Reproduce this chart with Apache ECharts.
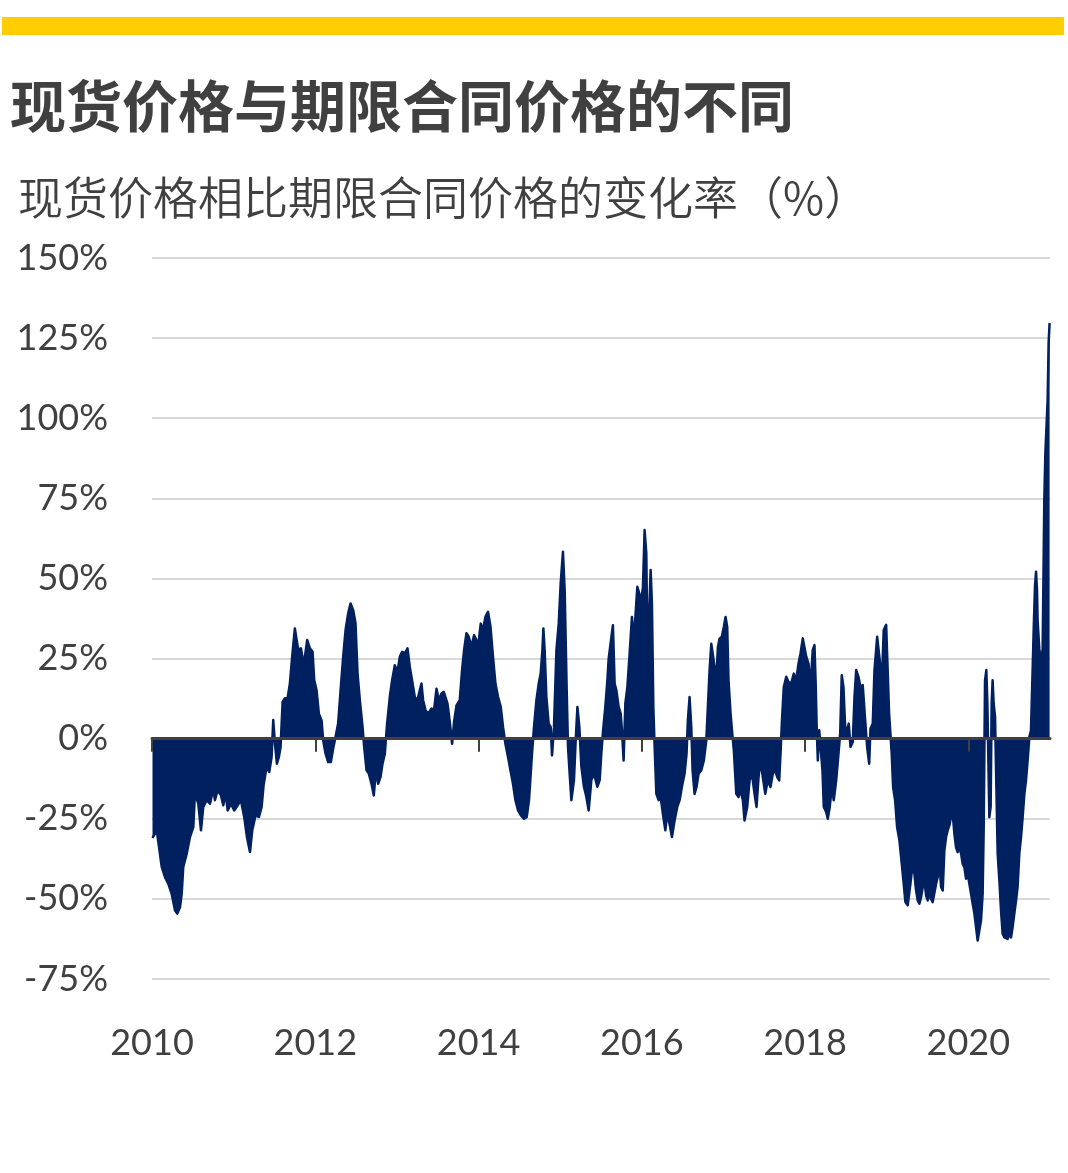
<!DOCTYPE html>
<html>
<head>
<meta charset="utf-8">
<title>现货价格与期限合同价格的不同</title>
<script src="https://cdn.jsdelivr.net/npm/echarts@6/dist/echarts.min.js"></script>
<style>
  html, body { margin: 0; padding: 0; background: #fff; }
  #chart { width: 1068px; height: 1173px; }
</style>
</head>
<body>
<div id="chart"></div>
<script>
// 时间点（年份小数）与对应的变化率（%）
const years = [
  2010.006, 2010.058, 2010.119, 2010.159, 2010.200, 2010.241, 2010.282, 2010.310, 2010.343, 2010.364,
  2010.383, 2010.425, 2010.465, 2010.506, 2010.526, 2010.567, 2010.600, 2010.628, 2010.670, 2010.710,
  2010.750, 2010.771, 2010.804, 2010.845, 2010.873, 2010.902, 2010.927, 2010.967, 2011.007, 2011.049,
  2011.089, 2011.130, 2011.163, 2011.200, 2011.228, 2011.269, 2011.310, 2011.343, 2011.367, 2011.404,
  2011.436, 2011.465, 2011.485, 2011.506, 2011.530, 2011.554, 2011.575, 2011.600, 2011.628, 2011.661,
  2011.689, 2011.717, 2011.750, 2011.791, 2011.824, 2011.852, 2011.873, 2011.901, 2011.934, 2011.967,
  2011.987, 2012.016, 2012.044, 2012.077, 2012.097, 2012.126, 2012.158, 2012.191, 2012.219, 2012.248,
  2012.280, 2012.310, 2012.342, 2012.371, 2012.403, 2012.432, 2012.464, 2012.493, 2012.518, 2012.546,
  2012.579, 2012.599, 2012.628, 2012.656, 2012.689, 2012.717, 2012.742, 2012.770, 2012.799, 2012.824,
  2012.852, 2012.880, 2012.913, 2012.941, 2012.974, 2013.007, 2013.036, 2013.064, 2013.097, 2013.130,
  2013.158, 2013.186, 2013.219, 2013.252, 2013.280, 2013.301, 2013.321, 2013.350, 2013.382, 2013.424,
  2013.455, 2013.485, 2013.513, 2013.546, 2013.574, 2013.619, 2013.648, 2013.676, 2013.700, 2013.730,
  2013.770, 2013.798, 2013.823, 2013.852, 2013.880, 2013.913, 2013.945, 2013.974, 2013.994, 2014.027,
  2014.055, 2014.084, 2014.116, 2014.146, 2014.177, 2014.207, 2014.239, 2014.272, 2014.300, 2014.329,
  2014.361, 2014.391, 2014.422, 2014.452, 2014.484, 2014.517, 2014.557, 2014.590, 2014.618, 2014.639,
  2014.655, 2014.679, 2014.709, 2014.737, 2014.761, 2014.782, 2014.794, 2014.810, 2014.831, 2014.859,
  2014.884, 2014.900, 2014.924, 2014.954, 2014.982, 2015.006, 2015.034, 2015.055, 2015.080, 2015.096,
  2015.116, 2015.137, 2015.169, 2015.190, 2015.211, 2015.235, 2015.260, 2015.291, 2015.321, 2015.349,
  2015.382, 2015.414, 2015.455, 2015.484, 2015.504, 2015.524, 2015.553, 2015.578, 2015.594, 2015.618,
  2015.646, 2015.667, 2015.688, 2015.716, 2015.741, 2015.757, 2015.777, 2015.798, 2015.823, 2015.851,
  2015.879, 2015.903, 2015.921, 2015.945, 2015.965, 2015.994, 2016.014, 2016.034, 2016.055, 2016.067,
  2016.087, 2016.108, 2016.124, 2016.141, 2016.157, 2016.178, 2016.206, 2016.230, 2016.258, 2016.288,
  2016.312, 2016.340, 2016.369, 2016.402, 2016.434, 2016.463, 2016.491, 2016.524, 2016.548, 2016.564,
  2016.585, 2016.606, 2016.622, 2016.646, 2016.671, 2016.695, 2016.728, 2016.760, 2016.790, 2016.809,
  2016.830, 2016.851, 2016.870, 2016.891, 2016.912, 2016.932, 2016.952, 2016.980, 2017.005, 2017.026,
  2017.046, 2017.062, 2017.087, 2017.108, 2017.127, 2017.157, 2017.185, 2017.209, 2017.238, 2017.258,
  2017.291, 2017.320, 2017.348, 2017.381, 2017.405, 2017.430, 2017.454, 2017.482, 2017.512, 2017.543,
  2017.576, 2017.605, 2017.634, 2017.659, 2017.683, 2017.699, 2017.715, 2017.739, 2017.769, 2017.797,
  2017.830, 2017.862, 2017.891, 2017.919, 2017.944, 2017.972, 2017.993, 2018.014, 2018.042, 2018.066,
  2018.094, 2018.115, 2018.131, 2018.143, 2018.156, 2018.173, 2018.197, 2018.213, 2018.229, 2018.258,
  2018.278, 2018.302, 2018.327, 2018.351, 2018.381, 2018.409, 2018.430, 2018.449, 2018.470, 2018.491,
  2018.515, 2018.535, 2018.556, 2018.584, 2018.605, 2018.626, 2018.654, 2018.678, 2018.706, 2018.736,
  2018.760, 2018.785, 2018.801, 2018.829, 2018.850, 2018.883, 2018.898, 2018.923, 2018.939, 2018.963,
  2018.993, 2019.012, 2019.029, 2019.045, 2019.061, 2019.078, 2019.103, 2019.127, 2019.156, 2019.184,
  2019.208, 2019.229, 2019.257, 2019.290, 2019.318, 2019.339, 2019.360, 2019.380, 2019.400, 2019.421,
  2019.441, 2019.462, 2019.482, 2019.502, 2019.523, 2019.543, 2019.563, 2019.584, 2019.605, 2019.624,
  2019.645, 2019.666, 2019.686, 2019.706, 2019.727, 2019.747, 2019.768, 2019.788, 2019.808, 2019.829,
  2019.849, 2019.869, 2019.890, 2019.911, 2019.930, 2019.951, 2019.972, 2019.992, 2020.012, 2020.033,
  2020.053, 2020.074, 2020.094, 2020.114, 2020.135, 2020.155, 2020.175, 2020.188, 2020.204, 2020.220,
  2020.233, 2020.245, 2020.257, 2020.273, 2020.285, 2020.297, 2020.310, 2020.327, 2020.343, 2020.359,
  2020.380, 2020.400, 2020.420, 2020.441, 2020.461, 2020.481, 2020.502, 2020.523, 2020.542, 2020.563,
  2020.584, 2020.603, 2020.624, 2020.645, 2020.665, 2020.686, 2020.706, 2020.726, 2020.747, 2020.767,
  2020.787, 2020.800, 2020.816, 2020.829, 2020.841, 2020.848, 2020.869, 2020.890, 2020.910, 2020.930,
  2020.943, 2020.963, 2020.971, 2020.983, 2020.995
];
const spread = [
  -31, -28.6, -40, -43.2, -45.3, -48.4, -53.6, -54.6, -52.6, -48.4,
  -40, -35.9, -30.7, -27.6, -17.1, -20.3, -28.6, -21.3, -19.2, -20.3,
  -15.6, -19.2, -16.1, -17.7, -20.8, -17.1, -22.4, -20.3, -22.4, -20.8,
  -19.2, -24.5, -30.7, -35.4, -28.6, -23.9, -24.4, -21.3, -14.5, -8.8,
  -10.4, -5.7, 5.8, -1.5, -7.8, -5.7, -2.6, 11.5, 12.6, 12.6,
  17.2, 25.6, 34.4, 27.7, 28.2, 24, 25.6, 30.8, 28.2, 27.1,
  18.3, 15.1, 7.8, 5.7, -0.5, -4.7, -7.3, -7.3, -3.1, 0.5,
  4.7, 15.1, 25.6, 33.9, 39.1, 42.2, 40.2, 36, 20.3, 12,
  3.7, -2.6, -9.9, -10.9, -14.1, -17.7, -9.9, -14.1, -12, -7.8,
  -4.7, 4.7, 13, 18.2, 22.9, 20.8, 25.6, 27.1, 26.6, 28.2,
  22.4, 18.2, 13, 12, 15.1, 17.2, 12, 8.9, 7.8, 9.4,
  8.9, 15.6, 12, 14.1, 14.6, 11, 5.2, -1.6, 5.2, 10.4,
  12, 21.4, 27.7, 32.9, 31.8, 28.7, 32.3, 30.8, 28.7, 35.9,
  33.9, 38, 39.6, 35, 25.5, 17.2, 13, 9.9, 3.6, -1.6,
  -5.7, -9.9, -14.1, -19.2, -22.4, -23.9, -25, -24.5, -19.2, -10.9,
  -4.7, 3.6, 12, 17.2, 20.3, 27.6, 34.4, 27.6, 13, 4.7,
  3.6, -5.2, 3.6, 27.6, 35.9, 48.4, 58.3, 46.4, 15.1, -2.6,
  -10.9, -19.2, -12.9, -0.5, 9.9, 3.6, -8.8, -15, -18.2, -22.4,
  -12.9, -10.9, -15, -12.9, -4.7, 2.1, 9.9, 18.2, 25, 25.6,
  35.4, 17.2, 15.1, 9.9, 7.8, 2.6, -6.8, 11, 16.1, 26.6,
  38, 30.7, 30.7, 47.4, 47.9, 43.2, 47.4, 65.1, 57.9, 31.8,
  37, 52.6, 42.2, 9.9, -2.6, -17.2, -19.2, -18.2, -23.4, -28.6,
  -23.4, -26.6, -30.7, -25.5, -21.3, -19.2, -15, -10.9, -4.7, 5.7,
  13, 3.6, -9.9, -17.2, -15, -10.9, -9.9, -6.8, -0.5, 9.9,
  21.3, 29.6, 30.2, 22.4, 18.2, 28.6, 31.2, 31.8, 34.9, 38,
  34.9, 18.2, 7.8, 1.6, -3.6, -17.2, -18.2, -16.1, -19.2, -25.5,
  -21.3, -13, -10.9, -17.2, -21.3, -12, -6.8, -12, -17.2, -13,
  -15.1, -10.9, -9.9, -12, -13, -4.7, 4.7, 16.1, 19.3, 17.7,
  17.2, 20.3, 18.2, 23.4, 26.6, 31.3, 30.7, 25.6, 23.4, 16.1,
  27.7, 29.2, 16.1, 2.6, -6.8, 2.6, 2.6, -9.9, -21.3, -22.9,
  -25, -21.3, -15.1, -19.2, -13, -4.7, 1.6, 19.8, 16.1, 3.6,
  2.6, 4.7, -2.6, -1, 13, 21.4, 19.3, 16.1, 16.7, 5.7,
  -2.6, -7.8, 3.1, 4.7, 21.4, 31.8, 32.3, 22.4, 16.2, 33.9,
  35.5, 35, 7.9, 1.6, -4.7, -15.1, -19.3, -27.6, -31.8, -39,
  -45.3, -51, -52, -45.3, -39, -42.2, -47.4, -50.5, -51.5, -49.4,
  -46.3, -44.3, -48.9, -50.5, -48.4, -50, -51, -50.5, -45.3, -43.2,
  -39, -46.3, -47.4, -34.9, -30.7, -28.6, -27, -24.4, -23.4, -29.7,
  -33.9, -35.4, -33.9, -35.9, -39, -40.1, -43.7, -42.2, -45.3, -48.4,
  -51.5, -54.6, -58.8, -63, -63.5, -56.7, -48.4, -27.6, 18.2, 21.4,
  10.9, -6.8, -24.5, -21.3, 10.9, 18.2, 10.9, 6.8, -15.1, -35.9,
  -44.3, -53.6, -60.9, -62, -61.4, -62.5, -60.9, -62, -58.8, -54.6,
  -50.5, -46.3, -35.9, -30.7, -24.5, -17.2, -13, -6.8, 0.5, 2.6,
  21.4, 33.9, 47.5, 52.1, 46.4, 37, 28, 24, 28, 74.5,
  89, 89.5, 105.8, 123.5, 129.7
];
const yearTicks = [2010, 2012, 2014, 2016, 2018, 2020];

const chart = echarts.init(document.getElementById('chart'));
const cjk = '"Noto Sans CJK SC", sans-serif';
const num = 'Lato, "Liberation Sans", sans-serif';
const ink = '#404040';
const navy = '#002060';

const option = {
    animation: false,
    graphic: [{
        type: 'rect',
        left: 2,
        top: 17,
        shape: { width: 1062, height: 18 },
        style: { fill: '#FFCD00' }
    }],
    title: [
        {
            text: '现货价格与期限合同价格的不同',
            left: 10,
            top: 78,
            padding: 0,
            textStyle: { fontFamily: cjk, fontSize: 56, fontWeight: 'bold', color: ink }
        },
        {
            text: '现货价格相比期限合同价格的变化率（%）',
            left: 18,
            top: 175,
            padding: 0,
            textStyle: { fontFamily: cjk, fontSize: 45, fontWeight: 350, color: ink }
        }
    ],
    grid: { left: 152, right: 18, top: 258, bottom: 194 },
    xAxis: [
        {
            // 零线和刻度
            type: 'value',
            min: 2010,
            max: 2021,
            position: 'bottom',
            z: 10,
            axisLine: { onZero: true, lineStyle: { color: ink, width: 3 } },
            axisTick: { customValues: yearTicks, length: 13, lineStyle: { color: ink, width: 2 } },
            axisLabel: { show: false },
            splitLine: { show: false }
        },
        {
            // 底部年份标签
            type: 'value',
            min: 2010,
            max: 2021,
            position: 'bottom',
            axisLine: { show: false, onZero: false },
            axisTick: { show: false },
            axisLabel: {
                customValues: yearTicks,
                margin: 46,
                fontFamily: num,
                fontSize: 36,
                color: ink,
                formatter: function (v) { return String(v); }
            },
            splitLine: { show: false }
        }
    ],
    yAxis: {
        type: 'value',
        min: -75,
        max: 150,
        interval: 25,
        axisLine: { show: false },
        axisTick: { show: false },
        axisLabel: {
            margin: 44,
            fontFamily: num,
            fontSize: 36,
            color: ink,
            formatter: function (v) { return v + '%'; }
        },
        splitLine: { lineStyle: { color: '#d9d9d9', width: 2 } }
    },
    series: [{
        type: 'line',
        xAxisIndex: 0,
        data: years.map(function (t, i) { return [t, spread[i]]; }),
        symbol: 'none',
        itemStyle: { color: navy },
        lineStyle: { color: navy, width: 2.5, join: 'round' },
        areaStyle: { color: navy, opacity: 1, origin: 0 }
    }]
};
chart.setOption(option);
</script>
</body>
</html>
